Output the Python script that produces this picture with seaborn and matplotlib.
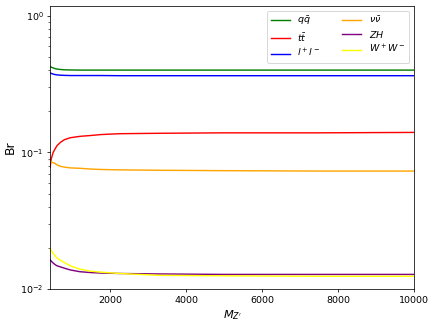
import pandas as pd
import seaborn as sns
import matplotlib.pyplot as plt

# masses (GeV) where the branching ratios were read
mass = [420, 450, 500, 550, 600, 700, 800, 950, 1200, 1500, 1750, 2250, 3300, 5000, 7500, 10000]

br_qq = [0.425, 0.420, 0.415, 0.410, 0.407, 0.404, 0.402, 0.401, 0.400, 0.400, 0.400, 0.400, 0.400, 0.400, 0.400, 0.400]
br_tt = [0.078, 0.090, 0.100, 0.106, 0.112, 0.119, 0.124, 0.128, 0.131, 0.133, 0.135, 0.137, 0.138, 0.139, 0.139, 0.140]
br_ll = [0.382, 0.378, 0.374, 0.371, 0.369, 0.367, 0.366, 0.365, 0.365, 0.365, 0.365, 0.364, 0.364, 0.364, 0.364, 0.364]
br_nn = [0.086, 0.085, 0.084, 0.083, 0.081, 0.079, 0.078, 0.077, 0.0765, 0.0755, 0.075, 0.0745, 0.074, 0.0735, 0.073, 0.073]
br_zh = [0.0164, 0.0160, 0.0155, 0.0151, 0.0148, 0.0145, 0.0142, 0.0138, 0.0134, 0.0132, 0.0131, 0.0130, 0.0129, 0.0128, 0.0128, 0.0128]
br_ww = [0.0200, 0.0192, 0.0182, 0.0175, 0.0169, 0.0162, 0.0156, 0.0148, 0.0140, 0.0135, 0.0133, 0.0130, 0.0126, 0.0125, 0.0124, 0.0124]

labels = [r'$q\bar{q}$', r'$t\bar{t}$', r'$l^+l^-$', r'$\nu\bar{\nu}$', r'$ZH$', r'$W^+W^-$']
colors = ['green', 'red', 'blue', 'orange', 'purple', 'yellow']
series = [br_qq, br_tt, br_ll, br_nn, br_zh, br_ww]

frames = []
for lab, vals in zip(labels, series):
    frames.append(pd.DataFrame({'M': mass, 'Br': vals, 'canal': lab}))
df = pd.concat(frames, ignore_index=True)

fig, ax = plt.subplots(figsize=(6.4, 4.8), dpi=68.125)
fig.subplots_adjust(left=0.115, right=0.95, top=0.982, bottom=0.116)

sns.lineplot(data=df, x='M', y='Br', hue='canal', hue_order=labels,
             palette=dict(zip(labels, colors)), linewidth=1.5, ax=ax)

ax.set_yscale('log')
ax.set_ylim(0.01, 1.18)
ax.set_xlim(mass[0], mass[-1])
ax.set_xlabel(r'$M_{Z^{\prime}}$', fontsize=12)
ax.set_ylabel('Br', fontsize=13)
ax.legend(ncol=2, loc='upper right', title=None, labelspacing=0.35, columnspacing=2.3)

plt.savefig('out.png', dpi=68.125)
